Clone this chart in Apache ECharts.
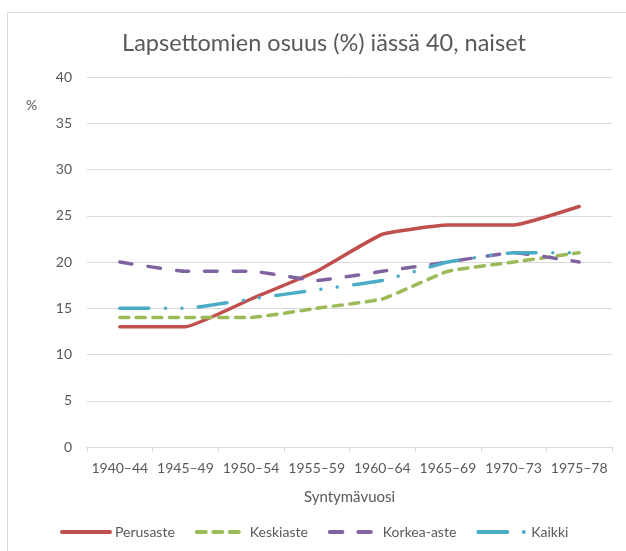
<!DOCTYPE html>
<html>
<head>
<meta charset="utf-8">
<script src="https://cdn.jsdelivr.net/npm/echarts@6/dist/echarts.min.js"></script>
<style>
html,body{margin:0;padding:0;background:#fff;}
#chart{width:626px;height:551px;}
</style>
</head>
<body>
<div id="chart"></div>
<script>
var categories = ['1940–44','1945–49','1950–54','1955–59','1960–64','1965–69','1970–73','1975–78'];
var perusaste = [13,13,16,19,23,24,24,26];
var keskiaste = [14,14,14,15,16,19,20,21];
var korkeaAste = [20,19,19,18,19,20,21,20];
var kaikki = [15,15,16,17,18,20,21,21];
var seriesNames = ['Perusaste','Keskiaste','Korkea-aste','Kaikki'];
var yTicks = [0,5,10,15,20,25,30,35,40];

var FONT = 'Lato, "Open Sans", sans-serif';
var TXT = '#595959';
var chart = echarts.init(document.getElementById('chart'), null, {renderer:'canvas'});

function mk(name, data, color, type) {
  return {
    name: name, type: 'line', data: data, symbol: 'none', smooth: 0.12,
    lineStyle: {color: color, width: 3.5, type: type, cap: 'round'},
    itemStyle: {color: color},
    emphasis: {disabled: true}
  };
}

chart.setOption({
  animation: false,
  backgroundColor: '#fff',
  graphic: [
    {type:'rect', left:5, top:10, shape:{width:700, height:700}, style:{fill:'none', stroke:'#d9d9d9', lineWidth:1}},
    {type:'text', left:26, top:98, style:{text:'%', fill:TXT, font:'14px ' + FONT}}
  ],
  title: {
    text: 'Lapsettomien osuus (%) iässä 40, naiset',
    left: 319, top: 26, textAlign: 'center',
    textStyle: {fontFamily: FONT, fontSize: 23.5, fontWeight: 'normal', color: TXT}
  },
  legend: {
    bottom: 12, left: 60, padding: 0,
    itemWidth: 48, itemHeight: 10, itemGap: 20,
    itemStyle: {opacity: 0},
    lineStyle: {width: 4},
    textStyle: {fontFamily: FONT, fontSize: 14, color: TXT},
    data: seriesNames
  },
  grid: {left: 87, right: 14, top: 77, bottom: 104, containLabel: false},
  xAxis: {
    type: 'category', data: categories, boundaryGap: true,
    name: 'Syntymävuosi', nameLocation: 'middle', nameGap: 43,
    nameTextStyle: {fontFamily: FONT, fontSize: 15, color: TXT},
    axisLine: {lineStyle: {color: '#d9d9d9', width: 1}},
    axisTick: {show: true, length: 5, lineStyle: {color: '#d9d9d9'}, alignWithLabel: false},
    axisLabel: {fontFamily: FONT, fontSize: 14, color: TXT, margin: 14, interval: 0}
  },
  yAxis: {
    type: 'value', min: yTicks[0], max: yTicks[yTicks.length-1], interval: 5,
    axisLine: {show: false}, axisTick: {show: false},
    axisLabel: {fontFamily: FONT, fontSize: 14, color: TXT, margin: 15},
    splitLine: {lineStyle: {color: '#d9d9d9', width: 1}}
  },
  series: [
    mk(seriesNames[0], perusaste, '#C0504D', 'solid'),
    mk(seriesNames[1], keskiaste, '#9BBB59', [9, 7.5]),
    mk(seriesNames[2], korkeaAste, '#8064A2', [12.5, 16]),
    mk(seriesNames[3], kaikki, '#4BACC6', [29, 16.5, 0.01, 16.5, 0.01, 16.5])
  ]
});
</script>
</body>
</html>
